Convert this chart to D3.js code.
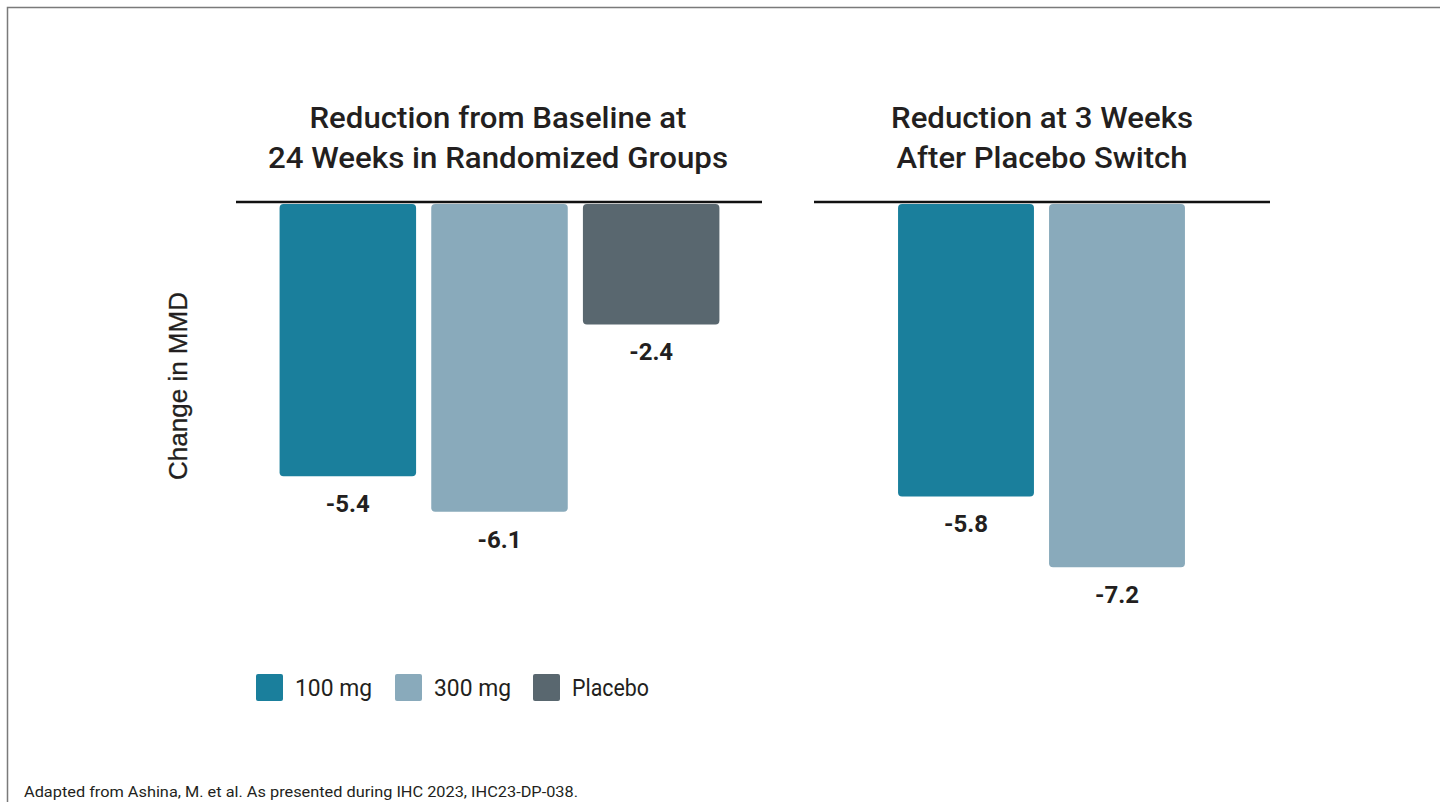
<!DOCTYPE html>
<html>
<head>
<meta charset="utf-8">
<script src="https://cdn.jsdelivr.net/npm/d3@7"></script>
<style>
  html, body { margin: 0; padding: 0; background: #fff; }
  svg { display: block; }
</style>
</head>
<body>
<svg id="chart" width="1440" height="802"></svg>
<script>
// Groups and values
const groups = ["100 mg", "300 mg", "Placebo"];
const groupColors = ["#1a7f9c", "#89aabb", "#59676f"];

const panelTitles = [
  ["Reduction from Baseline at", "24 Weeks in Randomized Groups"],
  ["Reduction at 3 Weeks", "After Placebo Switch"]
];
const panel1Groups = ["100 mg", "300 mg", "Placebo"];
const panel1Values = [-5.4, -6.1, -2.4];
const panel2Groups = ["100 mg", "300 mg"];
const panel2Values = [-5.8, -7.2];

const yLabel = "Change in MMD";
const footnote = "Adapted from Ashina, M. et al. As presented during IHC 2023, IHC23-DP-038.";

const svg = d3.select("#chart");
const ink = "#231f20";
const font = "Roboto, 'Liberation Sans', sans-serif";

// Frame lines (left and top)
svg.append("path")
  .attr("d", "M7.5,802 L7.5,7.5 L1440,7.5")
  .attr("fill", "none")
  .attr("stroke", "#7a7a7a")
  .attr("stroke-width", 1.5);

// Shared vertical scale: 0 at the baseline, negative values go down
const y = d3.scaleLinear().domain([0, -8]).range([203, 203 + 8 * 50.6]);
const color = d3.scaleOrdinal().domain(groups).range(groupColors);

const panels = [
  { title: panelTitles[0], widths: [377, 460], cats: panel1Groups, vals: panel1Values,
    line: [236, 762], band: [272, 727], cx: 498 },
  { title: panelTitles[1], widths: [302, 291], cats: panel2Groups, vals: panel2Values,
    line: [814, 1270], band: [890.5, 1192.5], cx: 1042 }
];

panels.forEach(p => {
  const g = svg.append("g");
  const x = d3.scaleBand().domain(p.cats).range(p.band)
    .paddingInner(0.1).paddingOuter(0.05);

  // Title, two lines
  g.selectAll("text.title").data(p.title).join("text")
    .attr("class", "title")
    .attr("x", p.cx).attr("y", (d, i) => 117 + i * 40)
    .attr("text-anchor", "middle").attr("dominant-baseline", "central")
    .attr("font-family", font).attr("font-weight", 500)
    .attr("font-size", 30).attr("fill", ink)
    .attr("textLength", (d, i) => p.widths[i])
    .attr("lengthAdjust", "spacingAndGlyphs")
    .text(d => d);

  const data = p.cats.map((c, i) => ({ cat: c, val: p.vals[i] }));

  // Bars
  g.selectAll("rect.bar").data(data).join("rect")
    .attr("class", "bar")
    .attr("x", d => x(d.cat))
    .attr("y", y(0) + 1)
    .attr("width", x.bandwidth())
    .attr("height", d => y(d.val) - y(0) - 1)
    .attr("rx", 4).attr("ry", 4)
    .attr("fill", d => color(d.cat));

  // Baseline
  g.append("line")
    .attr("x1", p.line[0]).attr("x2", p.line[1])
    .attr("y1", y(0) - 1).attr("y2", y(0) - 1)
    .attr("stroke", "#111").attr("stroke-width", 2.5);

  // Value labels
  g.selectAll("text.val").data(data).join("text")
    .attr("class", "val")
    .attr("x", d => x(d.cat) + x.bandwidth() / 2)
    .attr("y", d => y(d.val) + 28)
    .attr("text-anchor", "middle").attr("dominant-baseline", "central")
    .attr("font-family", font).attr("font-weight", 700)
    .attr("font-size", 24).attr("fill", ink)
    .text(d => d.val.toFixed(1));
});

// Y axis title
svg.append("text")
  .attr("transform", "translate(178,386) rotate(-90)")
  .attr("text-anchor", "middle").attr("dominant-baseline", "central")
  .attr("font-family", "'Liberation Sans', Arial, sans-serif")
  .attr("font-size", 26).attr("fill", ink)
  .attr("stroke", ink).attr("stroke-width", 0.3)
  .text(yLabel);

// Legend
const legendX = [256, 395, 533];
const legend = svg.append("g").selectAll("g").data(groups).join("g")
  .attr("transform", (d, i) => `translate(${legendX[i]},674)`);
legend.append("rect")
  .attr("width", 27).attr("height", 27).attr("rx", 2)
  .attr("fill", d => color(d));
legend.append("text")
  .attr("x", 39).attr("y", 14)
  .attr("dominant-baseline", "central")
  .attr("font-family", font).attr("font-size", 24).attr("fill", ink)
  .attr("textLength", 77).attr("lengthAdjust", "spacingAndGlyphs")
  .text(d => d);

// Source note
svg.append("text")
  .attr("x", 24).attr("y", 797)
  .attr("font-family", font).attr("font-size", 15).attr("fill", ink)
  .attr("textLength", 554).attr("lengthAdjust", "spacingAndGlyphs")
  .text(footnote);
</script>
</body>
</html>
